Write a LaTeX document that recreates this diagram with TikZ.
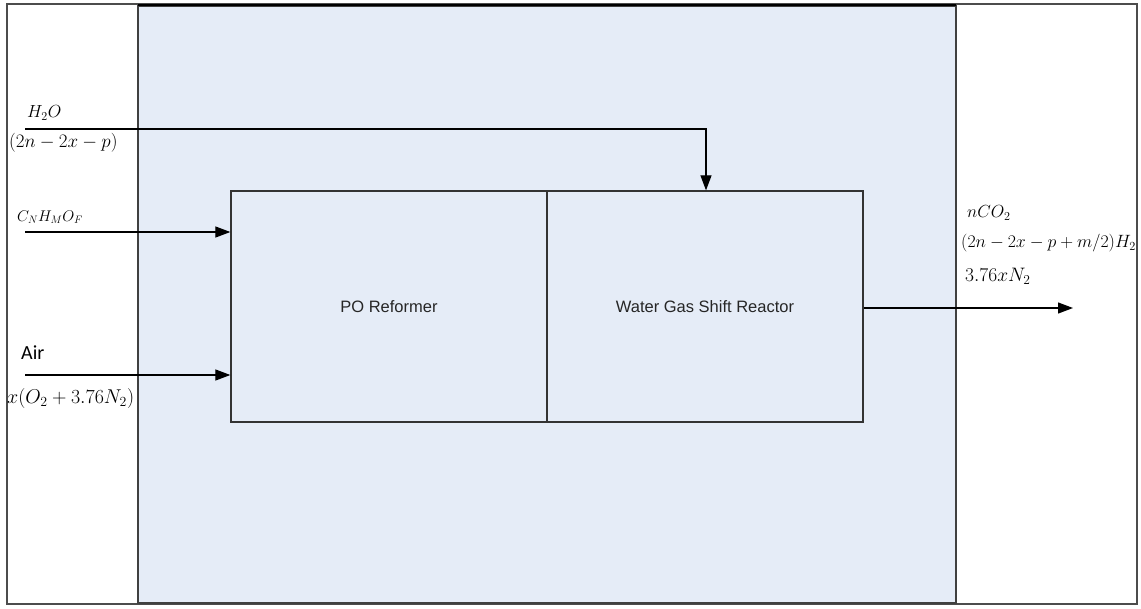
\documentclass[tikz,border=0pt]{standalone}
\usepackage{fontspec}
\usepackage{amsmath}
\usepackage{graphicx}
\newfontfamily\lsans{Liberation Sans}
\newfontfamily\csans{Carlito}
\usetikzlibrary{arrows.meta}
\definecolor{panelblue}{HTML}{E5ECF7}
\tikzset{
  x=1pt, y=-1pt,
  block/.style={draw=black!80, line width=1.3pt, minimum width=316pt, minimum height=231pt, inner sep=0pt, font=\lsans\fontsize{16.5}{19}\selectfont, text=black!85},
  flow/.style={draw=black, line width=1.2pt, -{Triangle[length=15pt,width=11pt]}},
  lbl/.style={inner sep=0pt, anchor=west}
}
\newcommand{\fs}[1]{\fontsize{#1}{#1}\selectfont}
\newcommand{\ms}[2]{\pgfmathsetmacro\msfactor{#1/17.28}\scalebox{\msfactor}{\fontsize{17.28}{17.28}\selectfont$#2$}}
\begin{document}
\begin{tikzpicture}
\useasboundingbox (0,0) rectangle (1141,608);
% outer frame
\draw[black!70, line width=1.5pt] (7,4) rectangle (1137,604);
% panel
\draw[black!75, line width=1.3pt, fill=panelblue] (138,6) rectangle (956,603);
\draw[black, line width=2pt] (138,5) -- (956,5);
% blocks
\node[block, fill=panelblue] (po) at (389,306.5) {PO Reformer};
\node[block, fill=panelblue] (wgs) at (705,306.5) {Water Gas Shift Reactor};
% input coordinates
\coordinate (h2oin) at (25,129);
\coordinate (h2ocorner) at (706,129);
\coordinate (cin) at (25,232);
\coordinate (airin) at (25,375);
\coordinate (outend) at (1073,308);
% arrows
\draw[flow] (h2oin) -- (h2ocorner) -- (h2ocorner |- wgs.north);
\draw[flow] (cin) -- (cin -| po.west);
\draw[flow] (airin) -- (airin -| po.west);
\draw[flow] (wgs.east |- outend) -- (outend);
% labels
\node[lbl] (t1) at (27,113) {\ms{17.5}{H_2O}};
\node[lbl] (t2) at (9,143) {\ms{19}{(2n-2x-p)}};
\node[lbl] (t3) at (17,217) {\ms{15.5}{C_NH_MO_F}};
\node[lbl, font=\csans\fs{20}] (t4) at (21,353) {Air};
\node[lbl] (t5) at (7,398) {\ms{20}{x(O_2+3.76N_2)}};
\node[lbl] (t6) at (967,213) {\ms{17.5}{nCO_2}};
\node[lbl] (t7) at (961,243) {\ms{17.8}{(2n-2x-p+m/2)H_2}};
\node[lbl] (t8) at (965,276) {\ms{19.5}{3.76xN_2}};
\end{tikzpicture}
\end{document}
